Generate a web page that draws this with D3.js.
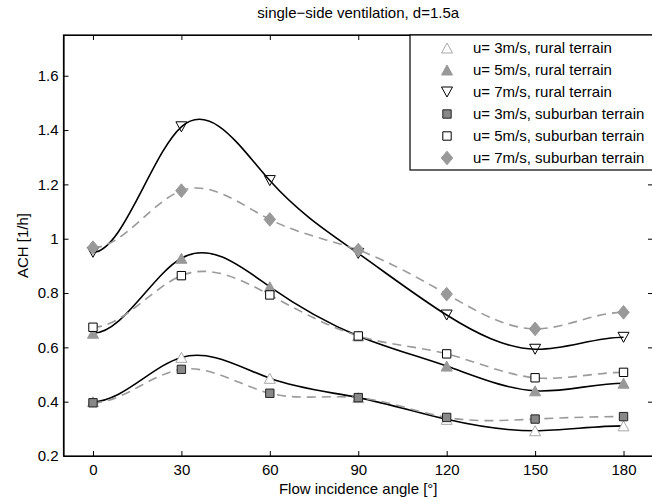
<!DOCTYPE html>
<html><head><meta charset="utf-8">
<script src="https://cdn.jsdelivr.net/npm/d3@7"></script>
<style>
body{margin:0;background:#fff;}
text{font-family:"Liberation Sans",Arial,sans-serif;fill:#000;}
</style></head>
<body><svg id="c" width="652" height="500"></svg>
<script>
const angles = [0, 30, 60, 90, 120, 150, 180];
const rural3 = [0.400, 0.563, 0.486, 0.415, 0.335, 0.293, 0.311];
const rural5 = [0.652, 0.928, 0.823, 0.642, 0.531, 0.440, 0.468];
const rural7 = [0.950, 1.412, 1.214, 0.946, 0.719, 0.593, 0.637];
const sub3   = [0.396, 0.519, 0.431, 0.415, 0.342, 0.336, 0.345];
const sub5   = [0.674, 0.864, 0.793, 0.642, 0.576, 0.488, 0.508];
const sub7   = [0.967, 1.177, 1.071, 0.958, 0.796, 0.668, 0.729];
const seriesNames = ["u= 3m/s, rural terrain","u= 5m/s, rural terrain","u= 7m/s, rural terrain",
  "u= 3m/s, suburban terrain","u= 5m/s, suburban terrain","u= 7m/s, suburban terrain"];
const xTicks = [0, 30, 60, 90, 120, 150, 180];
const yTicks = [0.2, 0.4, 0.6, 0.8, 1, 1.2, 1.4, 1.6];
const titleText = "single\u2212side ventilation, d=1.5a";
const xLabel = "Flow incidence angle [\u00b0]";
const yLabel = "ACH [1/h]";

const svg = d3.select("#c");
const L = 63.5, R = 653, T = 35, B = 456;
const x = d3.scaleLinear().domain([-10, 190]).range([L, R]);
const y = d3.scaleLinear().domain([0.2, 1.75]).range([B, T]);

// clamped cubic spline (zero end slopes) as a d3 curve factory
function curveSplineClamped(context) {
  let xs, ys;
  return {
    lineStart() { xs = []; ys = []; },
    point(a, b) { xs.push(+a); ys.push(+b); },
    lineEnd() {
      const n = xs.length;
      const dx = [], dd = [];
      for (let i = 0; i < n - 1; i++) { dx.push(xs[i + 1] - xs[i]); dd.push((ys[i + 1] - ys[i]) / dx[i]); }
      // tridiagonal system for slopes, s[0] = s[n-1] = 0
      const a = new Array(n).fill(0), b = new Array(n).fill(1), c = new Array(n).fill(0), r = new Array(n).fill(0);
      for (let i = 1; i < n - 1; i++) {
        a[i] = dx[i]; b[i] = 2 * (dx[i - 1] + dx[i]); c[i] = dx[i - 1];
        r[i] = 3 * (dx[i] * dd[i - 1] + dx[i - 1] * dd[i]);
      }
      for (let i = 1; i < n; i++) {
        const m = a[i] / b[i - 1];
        b[i] -= m * c[i - 1]; r[i] -= m * r[i - 1];
      }
      const s = new Array(n).fill(0);
      s[n - 1] = r[n - 1] / b[n - 1];
      for (let i = n - 2; i >= 0; i--) s[i] = (r[i] - c[i] * s[i + 1]) / b[i];
      context.moveTo(xs[0], ys[0]);
      for (let i = 0; i < n - 1; i++) {
        const h = dx[i];
        context.bezierCurveTo(xs[i] + h / 3, ys[i] + h * s[i] / 3,
          xs[i + 1] - h / 3, ys[i + 1] - h * s[i + 1] / 3, xs[i + 1], ys[i + 1]);
      }
    },
    areaStart() {}, areaEnd() {}
  };
}

// marker shapes (bounding-box centred)
const triUp = {draw(ctx, size) { const s = Math.sqrt(size);
  ctx.moveTo(0, -s / 2); ctx.lineTo(s * 0.55, s / 2); ctx.lineTo(-s * 0.55, s / 2); ctx.closePath(); }};
const triDown = {draw(ctx, size) { const s = Math.sqrt(size);
  ctx.moveTo(0, s / 2); ctx.lineTo(s * 0.55, -s / 2); ctx.lineTo(-s * 0.55, -s / 2); ctx.closePath(); }};
const diamond = {draw(ctx, size) { const s = Math.sqrt(size);
  ctx.moveTo(0, -s * 0.62); ctx.lineTo(s * 0.52, 0); ctx.lineTo(0, s * 0.62); ctx.lineTo(-s * 0.52, 0); ctx.closePath(); }};

const styles = [
  {sym: triUp, size: 100, fill: "#fff", stroke: "#a8a8a8", line: "solid"},
  {sym: triUp, size: 100, fill: "#999", stroke: "#999", line: "solid"},
  {sym: triDown, size: 100, fill: "none", stroke: "#000", line: "solid"},
  {sym: d3.symbolSquare, size: 70, fill: "#888", stroke: "#222", line: "dash"},
  {sym: d3.symbolSquare, size: 70, fill: "#fff", stroke: "#000", line: "dash"},
  {sym: diamond, size: 121, fill: "#999", stroke: "#999", line: "dash"},
];
const data = [rural3, rural5, rural7, sub3, sub5, sub7];

// axes box
const gx = svg.append("g").attr("transform", `translate(0,${B})`)
  .call(d3.axisBottom(x).tickValues(xTicks).tickSizeInner(-5).tickSizeOuter(0).tickPadding(8));
const gxt = svg.append("g").attr("transform", `translate(0,${T})`)
  .call(d3.axisTop(x).tickValues(xTicks).tickSizeInner(-5).tickSizeOuter(0).tickFormat(""));
const gy = svg.append("g").attr("transform", `translate(${L},0)`)
  .call(d3.axisLeft(y).tickValues(yTicks).tickSizeInner(-5).tickSizeOuter(0).tickPadding(5).tickFormat(d3.format("")));
const gyr = svg.append("g").attr("transform", `translate(${R},0)`)
  .call(d3.axisRight(y).tickValues(yTicks).tickSizeInner(-5).tickSizeOuter(0).tickFormat(""));
[gx, gxt, gy, gyr].forEach(g => {
  g.selectAll("path.domain").attr("stroke", "#000").attr("stroke-width", 1.2);
  g.selectAll("line").attr("stroke", "#000");
  g.selectAll("text").style("font-size", "15px").attr("fill", "#000");
});
gx.selectAll("text").attr("dy", "0.71em");
svg.append("rect").attr("x", L).attr("y", T).attr("width", R - L).attr("height", B - T)
  .attr("fill", "none").attr("stroke", "#000").attr("stroke-width", 1.2);

// curves
const line = d3.line().x((d, i) => x(angles[i])).y(d => y(d)).curve(curveSplineClamped);
data.forEach((arr, k) => {
  const st = styles[k];
  svg.append("path").datum(arr).attr("d", line).attr("fill", "none")
    .attr("stroke", st.line === "solid" ? "#000" : "#9a9a9a")
    .attr("stroke-width", 1.6)
    .attr("stroke-dasharray", st.line === "solid" ? null : "9,6");
});

// markers
function marker(g, st, cx, cy) {
  g.append("path").attr("d", d3.symbol().type(st.sym).size(st.size)())
    .attr("transform", `translate(${cx},${cy})`)
    .attr("fill", st.fill).attr("stroke", st.stroke).attr("stroke-width", 1);
}
data.forEach((arr, k) => {
  const g = svg.append("g");
  arr.forEach((v, i) => marker(g, styles[k], x(angles[i]), y(v)));
});

// legend
const lg = svg.append("g");
lg.append("rect").attr("x", 410).attr("y", T).attr("width", R - 410).attr("height", 135)
  .attr("fill", "#fff").attr("stroke", "#000").attr("stroke-width", 1.2);
seriesNames.forEach((name, k) => {
  const cy = T + 13 + k * 22;
  marker(lg, styles[k], 447, cy);
  lg.append("text").attr("x", 473).attr("y", cy).attr("dy", "0.35em")
    .style("font-size", "15px").text(name);
});

// titles
svg.append("text").attr("x", (L + R) / 2).attr("y", 18).attr("text-anchor", "middle")
  .style("font-size", "15px").text(titleText);
svg.append("text").attr("x", (L + R) / 2).attr("y", 494).attr("text-anchor", "middle")
  .style("font-size", "15px").text(xLabel);
svg.append("text").attr("transform", `translate(28,${(T + B) / 2}) rotate(-90)`).attr("text-anchor", "middle")
  .style("font-size", "15px").text(yLabel);
</script></body></html>
